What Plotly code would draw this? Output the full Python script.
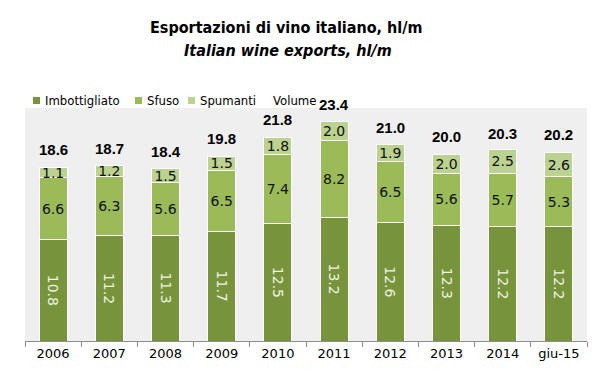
import plotly.graph_objects as go

categories = ["2006", "2007", "2008", "2009", "2010", "2011", "2012", "2013", "2014", "giu-15"]
imbottigliato = [10.8, 11.2, 11.3, 11.7, 12.5, 13.2, 12.6, 12.3, 12.2, 12.2]
sfuso = [6.6, 6.3, 5.6, 6.5, 7.4, 8.2, 6.5, 5.6, 5.7, 5.3]
spumanti = [1.1, 1.2, 1.5, 1.5, 1.8, 2.0, 1.9, 2.0, 2.5, 2.6]
volume = [18.6, 18.7, 18.4, 19.8, 21.8, 23.4, 21.0, 20.0, 20.3, 20.2]
series_names = ["Imbottigliato", "Sfuso", "Spumanti", "Volume"]

C_DARK = "#77933C"
C_MID = "#9BBB59"
C_LIGHT = "#BCD290"
NUM_FONT = "DejaVu Sans"
COND_FONT = "'DejaVu Sans Condensed', 'Roboto Condensed', 'Liberation Sans Narrow', 'Liberation Sans', sans-serif"

W, H = 599, 380
ML, MR, MT, MB = 17, 20, 100, 47
PW, PH = W - ML - MR, H - MT - MB


def px_x(x):
    return (x - ML) / PW


def px_y(y):
    return (H - MB - y) / PH


fig = go.Figure()


def fmt(vals):
    return [f"{v:.1f}" for v in vals]


fig.add_trace(go.Bar(
    x=categories, y=imbottigliato, name=series_names[0],
    marker=dict(color=C_DARK, line=dict(color="white", width=1)),
    text=fmt(imbottigliato), textposition="inside", insidetextanchor="middle",
    textangle=90, constraintext="none",
    textfont=dict(family=NUM_FONT, size=14, color="#EEF3E2"),
))
fig.add_trace(go.Bar(
    x=categories, y=sfuso, name=series_names[1],
    marker=dict(color=C_MID, line=dict(color="white", width=1)),
    text=fmt(sfuso), textposition="inside", insidetextanchor="middle",
    textangle=0, constraintext="none",
    textfont=dict(family=NUM_FONT, size=14, color="#111111"),
))
fig.add_trace(go.Bar(
    x=categories, y=spumanti, name=series_names[2],
    marker=dict(color=C_LIGHT, line=dict(color="white", width=1)),
    text=fmt(spumanti), textposition="inside", insidetextanchor="middle",
    textangle=0, constraintext="none",
    textfont=dict(family=NUM_FONT, size=14, color="#111111"),
))
fig.add_trace(go.Scatter(
    x=categories, y=volume, name=series_names[3], mode="lines",
    line=dict(width=0, color="rgba(0,0,0,0)"),
    hoverinfo="skip", showlegend=False,
))

for i, v in enumerate(volume):
    fig.add_annotation(
        x=i, y=v, text=f"<b>{v:.1f}</b>", showarrow=False,
        yshift=17, xref="x", yref="y",
        font=dict(family="Liberation Sans", size=15, color="black"),
    )

# Titles
fig.add_annotation(
    xref="paper", yref="paper", x=px_x(278), y=px_y(20),
    xanchor="center", yanchor="middle", showarrow=False,
    text="<b>Esportazioni di vino italiano, hl/m</b>",
    font=dict(family=COND_FONT, size=16, color="black"),
)
fig.add_annotation(
    xref="paper", yref="paper", x=px_x(280), y=px_y(42),
    xanchor="center", yanchor="middle", showarrow=False,
    text="<b><i>Italian wine exports, hl/m</i></b>",
    font=dict(family=COND_FONT, size=16, color="black"),
)

# Legend (compact, Excel-like)
legend_colors = [C_DARK, C_MID, C_LIGHT, None]
legend_marker_x = [25, 127, 180, None]
legend_text_x = [35, 137, 190, 263]
LEG_Y = 92
for name, col, mx, tx in zip(series_names, legend_colors, legend_marker_x, legend_text_x):
    if col is not None:
        fig.add_shape(
            type="rect", xref="paper", yref="paper",
            x0=px_x(mx), x1=px_x(mx + 7), y0=px_y(LEG_Y + 4), y1=px_y(LEG_Y - 3),
            fillcolor=col, line=dict(width=0),
        )
    fig.add_annotation(
        xref="paper", yref="paper", x=px_x(tx), y=px_y(LEG_Y),
        xanchor="left", yanchor="middle", showarrow=False, text=name,
        font=dict(family=COND_FONT, size=13, color="black"),
    )

fig.update_layout(
    width=W, height=H,
    margin=dict(l=ML, r=MR, t=MT, b=MB, pad=0, autoexpand=False),
    barmode="stack", bargap=0.5,
    paper_bgcolor="white", plot_bgcolor="#EFEFEF",
    showlegend=False,
    xaxis=dict(
        type="category", showgrid=False, showline=True, linecolor="#8C8C8C",
        ticks="outside", ticklen=5, tickcolor="#8C8C8C", tickson="boundaries",
        tickfont=dict(family=NUM_FONT, size=13, color="black"),
        tickangle=0, fixedrange=True,
    ),
    yaxis=dict(
        range=[0, 24.85], visible=False, showgrid=False, fixedrange=True,
    ),
)

fig.write_html("out.html")
